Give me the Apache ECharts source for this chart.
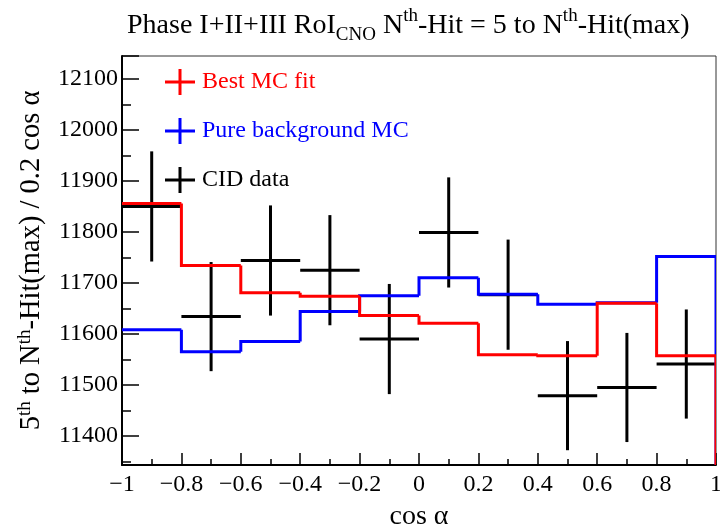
<!DOCTYPE html>
<html>
<head>
<meta charset="utf-8">
<script src="https://cdn.jsdelivr.net/npm/echarts@6/dist/echarts.min.js"></script>
<style>html,body{margin:0;padding:0;background:#fff;}#c{width:720px;height:530px;}</style>
</head>
<body>
<div id="c"></div>
<script>
// ---- data ----
const binLow  = [-1, -0.8, -0.6, -0.4, -0.2, 0, 0.2, 0.4, 0.6, 0.8];
const binHigh = [-0.8, -0.6, -0.4, -0.2, 0, 0.2, 0.4, 0.6, 0.8, 1];
const bestFit = [11856, 11734, 11681, 11674, 11636, 11621, 11559, 11557, 11660, 11557];
const pureBkg = [11608, 11565, 11585, 11644, 11675, 11710, 11678, 11658, 11661, 11752];
const cidData = [11850, 11634, 11744, 11725, 11590, 11799, 11677, 11479, 11495, 11541];
const cidErr  = [108, 107, 108, 108, 108, 108, 108, 107, 107, 107];
const seriesNames = ['Best MC fit', 'Pure background MC', 'CID data'];

const FONT = 'Liberation Serif';
const crossIcon = 'path://M0,11.5h30v3h-30z M13.5,0h3v26h-3z';

function histData(vals) {
  return vals.map((v, i) => [binLow[i], binHigh[i], v, i > 0 ? vals[i - 1] : v]);
}
function histRender(color) {
  return function (params, api) {
    const i = params.dataIndex;
    const x0 = api.value(0), x1 = api.value(1), v = api.value(2), pv = api.value(3);
    const pts = [];
    if (i > 0) pts.push(api.coord([x0, pv]));
    pts.push(api.coord([x0, v]));
    pts.push(api.coord([x1, v]));
    if (i === binLow.length - 1) {
      const p = api.coord([x1, v]);
      pts.push([p[0], params.coordSys.y + params.coordSys.height]);
    }
    return { type: 'polyline', shape: { points: pts },
      style: { stroke: color, lineWidth: 3, fill: null, lineJoin: 'miter' } };
  };
}
const dataPts = cidData.map((v, i) => [(binLow[i] + binHigh[i]) / 2, v, cidErr[i], binLow[i], binHigh[i]]);

const chart = echarts.init(document.getElementById('c'), null, { renderer: 'canvas' });
chart.setOption({
  backgroundColor: '#fff',
  animation: false,
  title: {
    text: 'Phase I+II+III RoI{sub|CNO} N{sup|th}-Hit = 5 to N{sup|th}-Hit(max)',
    left: 122, top: 2,
    textStyle: {
      fontFamily: FONT, fontSize: 28, fontWeight: 'normal', color: '#000', lineHeight: 38,
      rich: {
        sub: { fontFamily: FONT, fontSize: 19, lineHeight: 19, verticalAlign: 'bottom', color: '#000' },
        sup: { fontFamily: FONT, fontSize: 19, lineHeight: 19, verticalAlign: 'top', color: '#000' }
      }
    }
  },
  legend: {
    orient: 'vertical', left: 160, top: 64,
    itemWidth: 30, itemHeight: 26, itemGap: 23,
    textStyle: { fontFamily: FONT, fontSize: 24, padding: [0, 0, 0, 2] },
    selectedMode: false,
    data: [
      { name: seriesNames[0], icon: crossIcon, textStyle: { color: '#ff0000' } },
      { name: seriesNames[1], icon: crossIcon, textStyle: { color: '#0000ff' } },
      { name: seriesNames[2], icon: crossIcon, textStyle: { color: '#000000' } }
    ]
  },
  grid: { left: 122, right: 4, top: 56, bottom: 65, show: true, borderColor: '#333', borderWidth: 1,
    containLabel: false, outerBoundsMode: 'none' },
  xAxis: {
    type: 'value', min: -1, max: 1, interval: 0.2,
    name: 'cos α', nameLocation: 'middle', nameGap: 34,
    nameTextStyle: { fontFamily: FONT, fontSize: 28, color: '#000', lineHeight: 30 },
    axisLine: { show: true, onZero: false, lineStyle: { color: '#000', width: 2 } },
    axisTick: { show: true, inside: true, length: 12, lineStyle: { color: '#000', width: 1.5 } },
    minorTick: { show: true, splitNumber: 2, length: 6, lineStyle: { color: '#000', width: 1.5 } },
    axisLabel: { fontFamily: FONT, fontSize: 24, color: '#000', margin: 8,
      formatter: v => String(Math.round(v * 10) / 10).replace('-', '\u2212') },
    splitLine: { show: false }, minorSplitLine: { show: false }
  },
  yAxis: {
    type: 'value', min: 11343, max: 12145, splitNumber: 8,
    name: '5{sup|th} to N{sup|th}-Hit(max) / 0.2 cos α', nameLocation: 'middle', nameRotate: 90, nameGap: 71,
    nameTextStyle: { fontFamily: FONT, fontSize: 28.5, color: '#000', lineHeight: 32,
      rich: { sup: { fontFamily: FONT, fontSize: 19, lineHeight: 19, verticalAlign: 'top', color: '#000' } } },
    axisLine: { show: true, onZero: false, lineStyle: { color: '#000', width: 2 } },
    axisTick: { show: true, inside: true, length: 17, lineStyle: { color: '#000', width: 1.5 } },
    minorTick: { show: true, splitNumber: 2, length: 9, lineStyle: { color: '#000', width: 1.5 } },
    axisLabel: { fontFamily: FONT, fontSize: 24, color: '#000', margin: 4, showMinLabel: false, showMaxLabel: false,
      formatter: v => String(v) },
    splitLine: { show: false }, minorSplitLine: { show: false }
  },
  series: [
    {
      name: seriesNames[2], type: 'custom', itemStyle: { color: '#000' }, clip: true,
      data: dataPts,
      renderItem: function (params, api) {
        const x = api.value(0), v = api.value(1), e = api.value(2), lo = api.value(3), hi = api.value(4);
        const a = api.coord([lo, v]), b = api.coord([hi, v]);
        const t = api.coord([x, v + e]), d = api.coord([x, v - e]);
        return { type: 'group', children: [
          { type: 'line', shape: { x1: a[0], y1: a[1], x2: b[0], y2: b[1] }, style: { stroke: '#000', lineWidth: 3 } },
          { type: 'line', shape: { x1: t[0], y1: t[1], x2: d[0], y2: d[1] }, style: { stroke: '#000', lineWidth: 3 } }
        ] };
      }
    },
    { name: seriesNames[1], type: 'custom', itemStyle: { color: '#0000ff' }, clip: true,
      data: histData(pureBkg), renderItem: histRender('#0000ff') },
    { name: seriesNames[0], type: 'custom', itemStyle: { color: '#ff0000' }, clip: true,
      data: histData(bestFit), renderItem: histRender('#ff0000') }
  ]
});
</script>
</body>
</html>
